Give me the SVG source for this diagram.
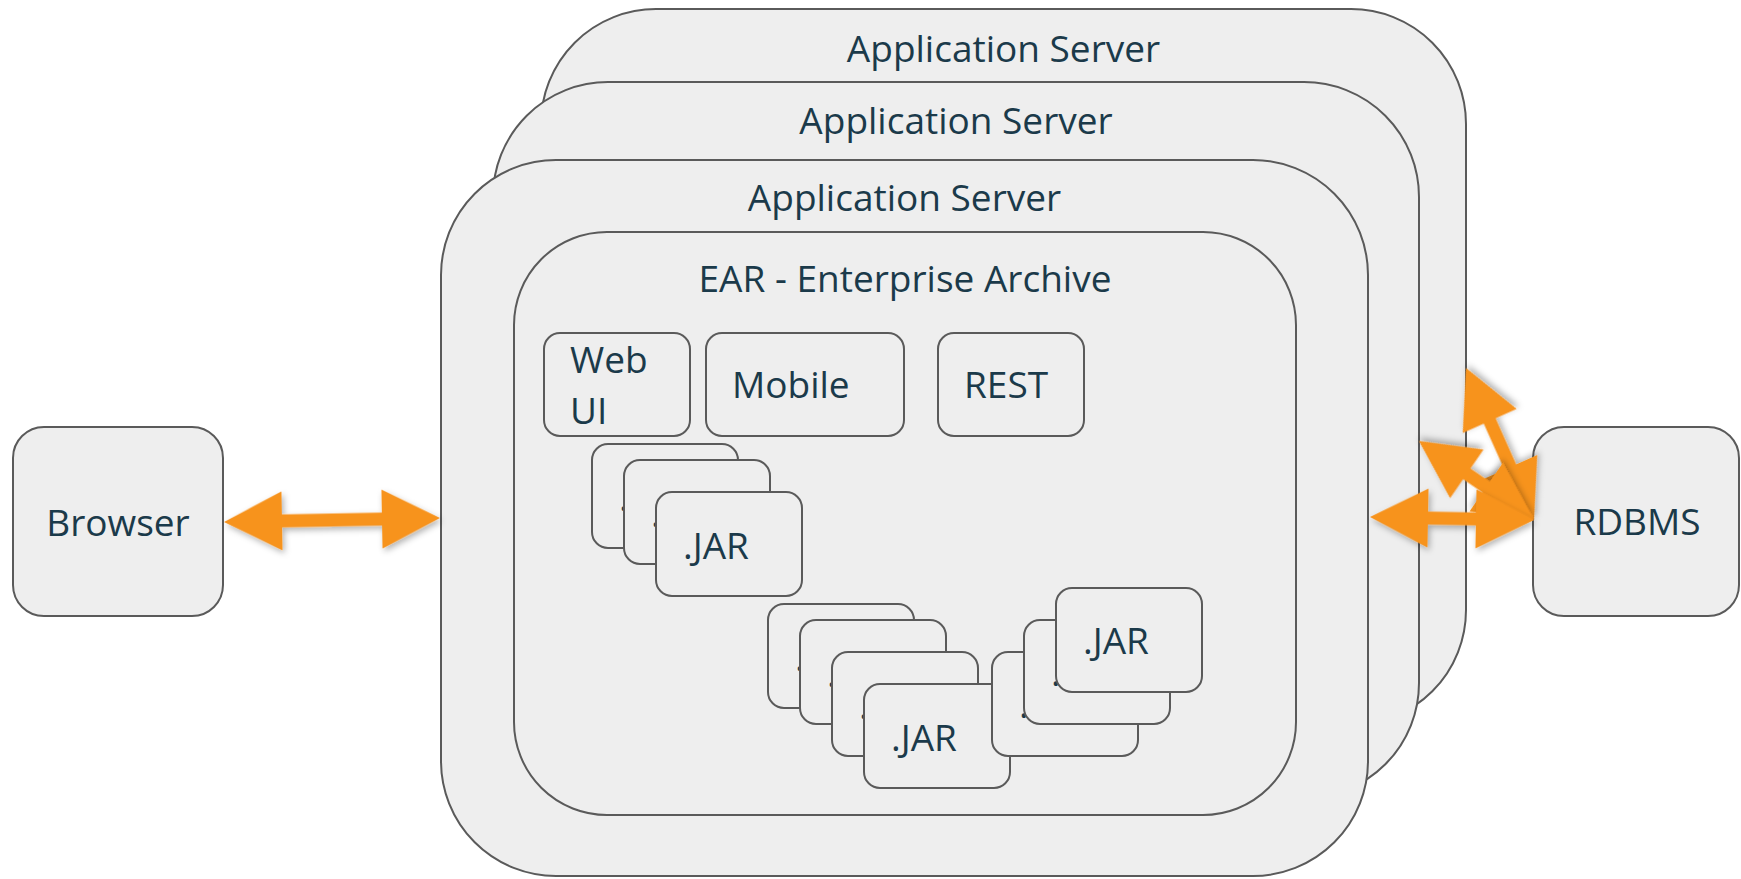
<svg xmlns="http://www.w3.org/2000/svg" width="1741" height="879" viewBox="0 0 1741 879">
<style>
.box{fill:#eeeeee;stroke:#5a5a5a;stroke-width:2}
.t{font-family:"Open Sans","Noto Sans","Liberation Sans",sans-serif;font-size:37px;fill:#1b3a4a}
.m{text-anchor:middle}
.arrow{fill:#f7931e;filter:url(#sh)}
</style>
<defs>
<filter id="sh" x="-30%" y="-30%" width="160%" height="160%">
<feDropShadow dx="2" dy="3" stdDeviation="3" flood-color="#000" flood-opacity="0.3"/>
</filter>
</defs>
<rect width="1741" height="879" fill="#ffffff"/>
<g id="appserver3">
<rect class="box" x="541" y="9" width="925" height="716" rx="115" ry="115"/>
<text class="t m" x="1003.5" y="62">Application Server</text>
</g>
<g id="appserver2">
<rect class="box" x="493" y="82" width="926" height="716" rx="115" ry="115"/>
<text class="t m" x="956" y="134">Application Server</text>
</g>
<g id="appserver1">
<rect class="box" x="441" y="160" width="927" height="716" rx="115" ry="115"/>
<text class="t m" x="904.5" y="211">Application Server</text>
</g>
<g id="ear">
<rect class="box" x="514" y="232" width="782" height="583" rx="93" ry="93"/>
<text class="t m" x="905" y="292">EAR - Enterprise Archive</text>
</g>
<g id="webui">
<rect class="box" x="544" y="333" width="146" height="103" rx="16" ry="16"/>
<text class="t" x="570" y="373">Web</text>
<text class="t" x="570" y="424">UI</text>
</g>
<g id="mobile">
<rect class="box" x="706" y="333" width="198" height="103" rx="16" ry="16"/>
<text class="t" x="732" y="398">Mobile</text>
</g>
<g id="rest">
<rect class="box" x="938" y="333" width="146" height="103" rx="16" ry="16"/>
<text class="t" x="964" y="398">REST</text>
</g>
<g id="jars1">
<rect class="box" x="592" y="444" width="146" height="104" rx="16" ry="16"/>
<text class="t" x="619" y="511">.</text>
<rect class="box" x="624" y="460" width="146" height="104" rx="16" ry="16"/>
<text class="t" x="651" y="527">.</text>
<rect class="box" x="656" y="492" width="146" height="104" rx="16" ry="16"/>
<text class="t" x="683" y="559">.JAR</text>
</g>
<g id="jars2">
<rect class="box" x="768" y="604" width="146" height="104" rx="16" ry="16"/>
<text class="t" x="795" y="671">.</text>
<rect class="box" x="800" y="620" width="146" height="104" rx="16" ry="16"/>
<text class="t" x="827" y="687">.</text>
<rect class="box" x="832" y="652" width="146" height="104" rx="16" ry="16"/>
<text class="t" x="859" y="719">.</text>
<rect class="box" x="864" y="684" width="146" height="104" rx="16" ry="16"/>
<text class="t" x="891" y="751">.JAR</text>
</g>
<g id="jars3">
<rect class="box" x="992" y="652" width="146" height="104" rx="16" ry="16"/>
<text class="t" x="1019" y="718">.</text>
<rect class="box" x="1024" y="620" width="146" height="104" rx="16" ry="16"/>
<text class="t" x="1051" y="686">.</text>
<rect class="box" x="1056" y="588" width="146" height="104" rx="16" ry="16"/>
<text class="t" x="1083" y="654">.JAR</text>
</g>
<g id="browser">
<rect class="box" x="13" y="427" width="210" height="189" rx="31" ry="31"/>
<text class="t m" x="118" y="536">Browser</text>
</g>
<g id="rdbms">
<rect class="box" x="1533" y="427" width="206" height="189" rx="31" ry="31"/>
<text class="t m" x="1637" y="535">RDBMS</text>
</g>
<g id="connectors">
<polygon class="arrow" transform="translate(224,522) rotate(-1.06)" points="0,0 58,-29.5 58,-6.5 158,-6.5 158,-29.5 216,0 158,29.5 158,6.5 58,6.5 58,29.5"/>
<polygon class="arrow" transform="translate(1534,520) rotate(-114.1)" points="0,0 58,-29.5 58,-6.5 108.5,-6.5 108.5,-29.5 166.5,0 108.5,29.5 108.5,6.5 58,6.5 58,29.5"/>
<polygon class="arrow" transform="translate(1534,520) rotate(-145.51)" points="0,0 58,-29.5 58,-6.5 81.5,-6.5 81.5,-29.5 139.5,0 81.5,29.5 81.5,6.5 58,6.5 58,29.5"/>
<polygon class="arrow" transform="translate(1370,517) rotate(1.05)" points="0,0 58,-29.5 58,-6.5 106,-6.5 106,-29.5 164,0 106,29.5 106,6.5 58,6.5 58,29.5"/>
</g>
</svg>
